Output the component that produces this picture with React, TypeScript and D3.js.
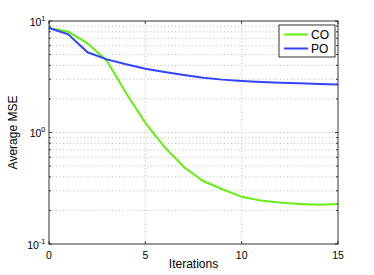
import React from "react";
import * as d3 from "d3";

const iterations = [0, 1, 2, 3, 4, 5, 6, 7, 8, 9, 10, 11, 12, 13, 14, 15];
const coValues = [8.65, 8.0, 6.3, 4.4, 2.26, 1.22, 0.74, 0.49, 0.367, 0.31, 0.265, 0.245, 0.235, 0.229, 0.225, 0.228];
const poValues = [8.65, 7.6, 5.24, 4.53, 4.09, 3.73, 3.49, 3.28, 3.1, 2.98, 2.9, 2.84, 2.8, 2.76, 2.72, 2.69];
const xTicks = [0, 5, 10, 15];
const yDecades = [-1, 0, 1];
const seriesNames = ["CO", "PO"];
const seriesColors = ["#66ee11", "#3344ff"];

export default function App() {
  const W = 374, H = 275;
  const L = 49, R = 338, T = 21, B = 244;
  const x = d3.scaleLinear().domain([0, 15]).range([L, R]);
  const y = d3.scaleLog().domain([0.1, 10]).range([B, T]);
  const line = d3.line<number>().x((_, i) => x(iterations[i])).y((v) => y(v));
  const minor: number[] = [];
  for (const d of [0.1, 1]) for (let k = 2; k <= 9; k++) minor.push(d * k);
  const font = "Liberation Sans, Arial, sans-serif";
  const series = [coValues, poValues];
  return (
    <svg width={W} height={H} style={{ position: "absolute", left: 0, top: 0 }} fontFamily={font}>
      <rect x={0} y={0} width={W} height={H} fill="#fff" />
      {/* grid */}
      <g stroke="#aaa" strokeWidth={0.8} strokeDasharray="1,2.5">
        {xTicks.slice(1, -1).map((t) => (
          <line key={"gx" + t} x1={x(t)} x2={x(t)} y1={T} y2={B} />
        ))}
        {[...minor, 1].map((v) => (
          <line key={"gy" + v} x1={L} x2={R} y1={y(v)} y2={y(v)} />
        ))}
      </g>
      {/* ticks */}
      <g stroke="#000" strokeWidth={0.7}>
        {xTicks.map((t) => (
          <g key={"tx" + t}>
            <line x1={x(t)} x2={x(t)} y1={B} y2={B - 3} />
            <line x1={x(t)} x2={x(t)} y1={T} y2={T + 3} />
          </g>
        ))}
        {yDecades.map((d) => (
          <g key={"ty" + d}>
            <line x1={L} x2={L + 3} y1={y(10 ** d)} y2={y(10 ** d)} />
            <line x1={R} x2={R - 3} y1={y(10 ** d)} y2={y(10 ** d)} />
          </g>
        ))}
        {minor.map((v) => (
          <g key={"tm" + v}>
            <line x1={L} x2={L + 2} y1={y(v)} y2={y(v)} />
            <line x1={R} x2={R - 2} y1={y(v)} y2={y(v)} />
          </g>
        ))}
      </g>
      {/* lines */}
      {series.map((s, i) => (
        <path key={seriesNames[i]} d={line(s) || ""} fill="none" stroke={seriesColors[i]} strokeWidth={2} />
      ))}
      <rect x={L} y={T} width={R - L} height={B - T} fill="none" stroke="#000" strokeWidth={0.8} />
      {/* tick labels */}
      <g fontSize={10.5} fill="#000">
        {xTicks.map((t) => (
          <text key={"lx" + t} x={x(t)} y={B + 15} textAnchor="middle">{t}</text>
        ))}
        {yDecades.map((d) => (
          <text key={"ly" + d} x={L - 3.5} y={y(10 ** d) + 4.5} textAnchor="end">
            10<tspan fontSize={7.5} dy={-5}>{d}</tspan>
          </text>
        ))}
      </g>
      <text x={(L + R) / 2} y={268} textAnchor="middle" fontSize={12}>Iterations</text>
      <text transform={`translate(16.5,${(T + B) / 2}) rotate(-90)`} textAnchor="middle" fontSize={12}>Average MSE</text>
      {/* legend */}
      <rect x={279} y={25} width={56} height={32} fill="#fff" stroke="#000" strokeWidth={0.8} />
      {seriesNames.map((n, i) => (
        <g key={"lg" + n}>
          <line x1={284} x2={308} y1={34.5 + i * 14} y2={34.5 + i * 14} stroke={seriesColors[i]} strokeWidth={2} />
          <text x={311} y={39 + i * 14} fontSize={12}>{n}</text>
        </g>
      ))}
    </svg>
  );
}
